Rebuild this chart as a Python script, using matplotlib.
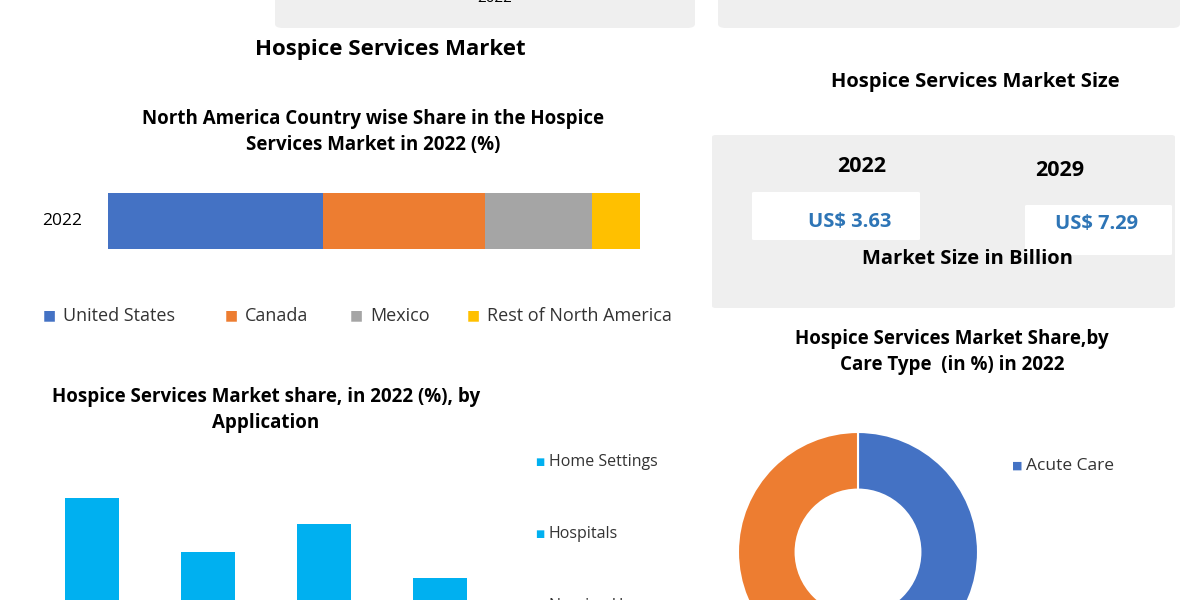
import matplotlib.pyplot as plt
from matplotlib.patches import FancyBboxPatch

plt.rcParams['font.family'] = ['Open Sans', 'DejaVu Sans']

W, H = 1200, 600

# data
countries = ['United States', 'Canada', 'Mexico', 'Rest of North America']
country_share = [40.4, 30.5, 20.1, 9.0]
country_colors = ['#4472C4', '#ED7D31', '#A5A5A5', '#FFC000']

app_values = [35.5, 22.0, 29.0, 15.5]
app_labels = ['Home Settings', 'Hospitals', 'Nursing Homes']

care_types = ['Acute Care', 'Routine Care']
care_share = [50, 50]

size_years = ['2022', '2029']
size_values = [3.63, 7.29]

fig = plt.figure(figsize=(12, 6), dpi=100)
fig.patch.set_facecolor('white')


def ax_px(x0, y0, x1, y1):
    return fig.add_axes([x0 / W, 1 - y1 / H, (x1 - x0) / W, (y1 - y0) / H])


def txt(x, y, s, **kw):
    fig.text(x / W, 1 - y / H, s, **kw)


def box(x0, y0, x1, y1, color, r=8):
    p = FancyBboxPatch((x0 / W, 1 - y1 / H), (x1 - x0) / W, (y1 - y0) / H,
                       boxstyle=f"round,pad=0,rounding_size={r / W}",
                       transform=fig.transFigure, facecolor=color, edgecolor='none')
    fig.patches.append(p)


# top cut-off panels
box(275, -20, 695, 28, '#EFEFEF')
box(718, -20, 1180, 28, '#EFEFEF')
txt(495, -2, '2022', ha='center', va='center', fontsize=11)

txt(390, 50, 'Hospice Services Market', ha='center', va='center', fontsize=16, fontweight='bold')
txt(373, 132, 'North America Country wise Share in the Hospice\nServices Market in 2022 (%)',
    ha='center', va='center', fontsize=13.5, fontweight='bold', linespacing=1.4)

# stacked bar
ax = ax_px(108, 193, 640, 249)
left = 0
for name, v, c in zip(countries, country_share, country_colors):
    ax.barh([0], [v], left=left, color=c, height=1.0, label=name)
    left += v
ax.set_xlim(0, 100)
ax.set_ylim(-0.5, 0.5)
ax.axis('off')
txt(62, 221, '2022', ha='center', va='center', fontsize=12.5)
legend_x = [43, 225, 350, 467]
for x, name, c in zip(legend_x, countries, country_colors):
    txt(x, 316, '\u25A0', ha='left', va='center', fontsize=10, color=c)
    txt(x + 20, 316, name, ha='left', va='center', fontsize=13, color='#333333')

# application bar chart
txt(266, 410, 'Hospice Services Market share, in 2022 (%), by\nApplication',
    ha='center', va='center', fontsize=13.5, fontweight='bold', linespacing=1.4)
ax2 = ax_px(34, 440, 498, 640)
ax2.bar(range(len(app_values)), app_values, color='#00B0F0', width=0.47)
ax2.set_xlim(-0.5, 3.5)
ax2.set_ylim(0, 50)
ax2.axis('off')
for y, name in zip([462, 534, 606], app_labels):
    txt(535, y, '\u25A0', ha='left', va='center', fontsize=7, color='#00B0F0')
    txt(549, y, name, ha='left', va='center', fontsize=11.5, color='#333333')

# market size panel
txt(975, 82, 'Hospice Services Market Size', ha='center', va='center', fontsize=14.5, fontweight='bold')
box(712, 135, 1175, 308, '#EFEFEF', r=4)
box(752, 192, 920, 240, 'white', r=2)
box(1025, 205, 1172, 255, 'white', r=2)
for x, y, yr in zip([862, 1060], [167, 170], size_years):
    txt(x, y, yr, ha='center', va='center', fontsize=15.5, fontweight='bold')
for x, y, v in zip([850, 1097], [222, 224], size_values):
    txt(x, y, f'US$ {v:.2f}', ha='center', va='center', fontsize=14.5, fontweight='bold', color='#2E75B6')
txt(967, 259, 'Market Size in Billion', ha='center', va='center', fontsize=14.5, fontweight='bold')

# donut
txt(952, 352, 'Hospice Services Market Share,by\nCare Type  (in %) in 2022',
    ha='center', va='center', fontsize=13.5, fontweight='bold', linespacing=1.4)
ax3 = ax_px(738, 432, 978, 672)
ax3.pie(care_share, colors=['#4472C4', '#ED7D31'], startangle=90, counterclock=False,
        radius=1.0, wedgeprops=dict(width=0.48, edgecolor='white', linewidth=1.5))
ax3.set_xlim(-1, 1)
ax3.set_ylim(-1, 1)
ax3.set_aspect('equal')
txt(1012, 466, '\u25A0', ha='left', va='center', fontsize=8, color='#4472C4')
txt(1026, 466, care_types[0], ha='left', va='center', fontsize=12.5, color='#333333')

fig.savefig('out.png', dpi=100)
